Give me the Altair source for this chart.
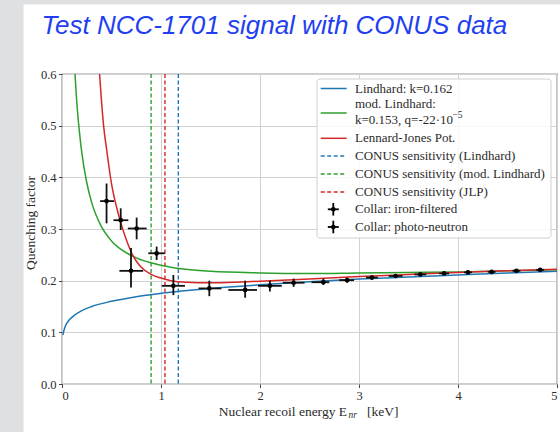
import altair as alt
import pandas as pd

# ---- model curves: quenching factor vs nuclear recoil energy [keV] ----
lindhard_e = [0.01, 0.015, 0.02, 0.03, 0.05, 0.1, 0.2, 0.3, 0.5, 0.75, 1.0, 1.5,
              2.0, 2.5, 3.0, 3.5, 4.0, 4.5, 5.0]
lindhard_q = [0.095, 0.100, 0.104, 0.110, 0.118, 0.129, 0.142, 0.150, 0.160, 0.169,
              0.1755, 0.185, 0.192, 0.198, 0.203, 0.207, 0.211, 0.215, 0.218]

modlind_e = [0.12, 0.13, 0.14, 0.15, 0.175, 0.2, 0.25, 0.3, 0.4, 0.5, 0.6, 0.75,
             1.0, 1.25, 1.5, 2.0, 2.5, 3.0, 3.5, 4.0, 4.5, 5.0]
modlind_q = [0.644, 0.605, 0.573, 0.544, 0.490, 0.448, 0.390, 0.351, 0.304, 0.277,
             0.260, 0.244, 0.230, 0.222, 0.218, 0.215, 0.214, 0.215, 0.216, 0.217,
             0.219, 0.221]

lj_e = [0.37, 0.40, 0.42, 0.45, 0.50, 0.55, 0.60, 0.65, 0.70, 0.75, 0.80, 0.90,
        1.0, 1.1, 1.25, 1.5, 1.75, 2.0, 2.5, 3.0, 3.5, 4.0, 4.5, 5.0]
lj_q = [0.625, 0.545, 0.500, 0.455, 0.388, 0.343, 0.308, 0.279, 0.255, 0.238,
        0.226, 0.212, 0.205, 0.200, 0.197, 0.196, 0.197, 0.199, 0.203, 0.208,
        0.212, 0.216, 0.219, 0.222]

model_names = ["Lindhard: k=0.162", "mod. Lindhard", "Lennard-Jones Pot."]
model_colors = ["#1f77b4", "#2ca02c", "#d62728"]

# ---- CONUS sensitivity thresholds [keV] ----
conus_names = ["CONUS sensitivity (Lindhard)", "CONUS sensitivity (mod. Lindhard)",
               "CONUS sensitivity (JLP)"]
conus_e = [1.175, 0.90, 1.04]

# ---- Collar measurements ----
collar_set = ["iron-filtered"] * 5 + ["photo-neutron"] * 15
collar_e = [0.45, 0.593, 0.754, 0.697, 0.956, 1.125, 1.488, 1.85, 2.10, 2.34,
            2.64, 2.88, 3.13, 3.37, 3.62, 3.86, 4.10, 4.34, 4.59, 4.83]
collar_q = [0.354, 0.317, 0.301, 0.219, 0.253, 0.190, 0.185, 0.182, 0.190, 0.196,
            0.197, 0.201, 0.206, 0.209, 0.212, 0.214, 0.216, 0.217, 0.219, 0.221]
collar_elo = [0.385, 0.52, 0.665, 0.58, 0.872, 1.007, 1.38, 1.68, 1.98, 2.23,
              2.52, 2.80, 3.07, 3.30, 3.56, 3.81, 4.06, 4.30, 4.55, 4.79]
collar_ehi = [0.525, 0.67, 0.855, 0.82, 1.04, 1.242, 1.61, 1.97, 2.22, 2.45,
              2.70, 2.95, 3.19, 3.44, 3.68, 3.91, 4.14, 4.38, 4.63, 4.87]
collar_qlo = [0.311, 0.298, 0.280, 0.187, 0.240, 0.172, 0.170, 0.167, 0.179, 0.188,
              0.192, 0.196, 0.202, 0.205, 0.209, 0.211, 0.213, 0.214, 0.216, 0.218]
collar_qhi = [0.388, 0.340, 0.322, 0.263, 0.266, 0.211, 0.200, 0.200, 0.200, 0.204,
              0.204, 0.206, 0.210, 0.213, 0.215, 0.217, 0.219, 0.220, 0.222, 0.224]

# ---- tables ----
curves = pd.concat([
    pd.DataFrame({"e": lindhard_e, "q": lindhard_q, "model": model_names[0]}),
    pd.DataFrame({"e": modlind_e, "q": modlind_q, "model": model_names[1]}),
    pd.DataFrame({"e": lj_e, "q": lj_q, "model": model_names[2]}),
], ignore_index=True)
conus = pd.DataFrame({"e": conus_e, "name": conus_names})
collar = pd.DataFrame({"set": collar_set, "e": collar_e, "q": collar_q,
                       "elo": collar_elo, "ehi": collar_ehi,
                       "qlo": collar_qlo, "qhi": collar_qhi})
one = pd.DataFrame({"k": [0]})

SERIF = "Liberation Serif"
INK = "#2b2b2b"
PANEL = "#dfe0e2"
LEG_FS = 13

x_scale = alt.Scale(domain=[0, 5], nice=False, zero=False)
y_scale = alt.Scale(domain=[0, 0.6], nice=False, zero=False)
x_axis = alt.Axis(values=[0, 1, 2, 3, 4, 5], format="d", grid=True, gridColor="#d2d2d2",
                  domain=False, tickSize=3.5, tickColor="#444", labelFont=SERIF,
                  labelFontSize=12.5, labelColor=INK, labelPadding=1.5, title=None)
y_axis = alt.Axis(values=[0, 0.1, 0.2, 0.3, 0.4, 0.5, 0.6], format=".1f", grid=True,
                  gridColor="#d2d2d2", domain=False, tickSize=3.5, tickColor="#444",
                  labelFont=SERIF, labelFontSize=12.5, labelColor=INK, labelPadding=2.5,
                  title=None)


def X(field):
    return alt.X(field, type="quantitative", scale=x_scale, axis=x_axis)


def Y(field):
    return alt.Y(field, type="quantitative", scale=y_scale, axis=y_axis)


color_all = alt.Color("name:N", scale=alt.Scale(domain=conus_names, range=model_colors),
                      legend=None)

thresholds = alt.Chart(conus).mark_rule(strokeDash=[4, 2.5], strokeWidth=1.4).encode(
    x=X("e"), color=color_all)

lines = alt.Chart(curves).mark_line(strokeWidth=1.5, clip=True, interpolate="monotone").encode(
    x=X("e"), y=Y("q"),
    color=alt.Color("model:N", scale=alt.Scale(domain=model_names, range=model_colors),
                    legend=None))

xerr = alt.Chart(collar).mark_rule(color="#111", strokeWidth=1.8).encode(
    x=X("elo"), x2="ehi", y=Y("q"))
yerr = alt.Chart(collar).mark_rule(color="#111", strokeWidth=1.8).encode(
    x=X("e"), y=Y("qlo"), y2="qhi")
dots = alt.Chart(collar).mark_circle(color="#000", size=22, opacity=1).encode(
    x=X("e"), y=Y("q"))

layers = [thresholds, lines, xerr, yerr, dots]

# gray side panel and top band around the white slide area
layers.append(alt.Chart(one).mark_rect(color=PANEL).encode(
    x=alt.value(-62), x2=alt.value(-38.5), y=alt.value(-74), y2=alt.value(358)))
layers.append(alt.Chart(one).mark_rect(color=PANEL).encode(
    x=alt.value(-62), x2=alt.value(498), y=alt.value(-74), y2=alt.value(-69.5)))

# slide title
layers.append(alt.Chart(one).mark_text(
    text="Test NCC-1701 signal with CONUS data", font="Liberation Sans", fontStyle="italic",
    fontSize=26, color="#1f3ff0", align="left", baseline="alphabetic").encode(
    x=alt.value(-20.5), y=alt.value(-40)))

# axis titles
layers.append(alt.Chart(one).mark_text(
    text="Quenching factor", font=SERIF, fontSize=13.5, color=INK, angle=270,
    align="center", baseline="middle").encode(x=alt.value(-31), y=alt.value(149)))
layers.append(alt.Chart(one).mark_text(
    text="Nuclear recoil energy E", font=SERIF, fontSize=13.5, color=INK,
    align="right", baseline="middle").encode(x=alt.value(285), y=alt.value(337.7)))
layers.append(alt.Chart(one).mark_text(
    text="nr", font=SERIF, fontStyle="italic", fontSize=9.5, color=INK,
    align="left", baseline="middle").encode(x=alt.value(286.5), y=alt.value(341)))
layers.append(alt.Chart(one).mark_text(
    text="[keV]", font=SERIF, fontSize=13.5, color=INK,
    align="left", baseline="middle").encode(x=alt.value(305), y=alt.value(337.7)))

# legend box
layers.append(alt.Chart(one).mark_rect(
    fill="white", fillOpacity=0.85, stroke="#cfcfcf", strokeWidth=1, cornerRadius=3).encode(
    x=alt.value(255), x2=alt.value(489), y=alt.value(5), y2=alt.value(164)))

legend_line_rows = [
    (14.5, model_colors[0], None), (39, model_colors[1], None), (64.3, model_colors[2], None),
    (82, model_colors[0], [4, 2.5]), (100, model_colors[1], [4, 2.5]),
    (118, model_colors[2], [4, 2.5]),
]
for ry, col, dash in legend_line_rows:
    kw = {"color": col, "strokeWidth": 1.5}
    if dash:
        kw["strokeDash"] = dash
    layers.append(alt.Chart(one).mark_rule(**kw).encode(
        x=alt.value(258.7), x2=alt.value(284.7), y=alt.value(ry)))

for ry in (135.3, 153):
    layers.append(alt.Chart(one).mark_rule(color="#000", strokeWidth=1.8).encode(
        x=alt.value(265.8), x2=alt.value(276.8), y=alt.value(ry)))
    layers.append(alt.Chart(one).mark_rule(color="#000", strokeWidth=1.8).encode(
        x=alt.value(271.3), y=alt.value(ry - 6.3), y2=alt.value(ry + 6.3)))
    layers.append(alt.Chart(one).mark_circle(color="#000", size=22, opacity=1).encode(
        x=alt.value(271.3), y=alt.value(ry)))

legend_text_rows = [
    (14.5, "Lindhard: k=0.162"),
    (29.5, "mod. Lindhard:"),
    (45.5, "k=0.153, q=-22·10"),
    (64.3, "Lennard-Jones Pot."),
    (82, "CONUS sensitivity (Lindhard)"),
    (100, "CONUS sensitivity (mod. Lindhard)"),
    (118, "CONUS sensitivity (JLP)"),
    (135.3, "Collar: iron-filtered"),
    (153, "Collar: photo-neutron"),
]
for ry, label in legend_text_rows:
    layers.append(alt.Chart(one).mark_text(
        text=label, font=SERIF, fontSize=LEG_FS, color=INK, align="left",
        baseline="middle").encode(x=alt.value(293), y=alt.value(ry)))
layers.append(alt.Chart(one).mark_text(
    text="−5", font=SERIF, fontSize=9.5, color=INK, align="left",
    baseline="middle").encode(x=alt.value(293 + 7.46 * LEG_FS + 0.5), y=alt.value(40.5)))

chart = alt.layer(*layers).properties(
    width=495, height=310,
    padding={"left": 62, "top": 74, "right": 3, "bottom": 48},
    autosize="none", background="white",
).configure_view(stroke="#3a3a3a", strokeWidth=1.2)

chart.save("out.html", embed_options={"renderer": "svg", "actions": False})
